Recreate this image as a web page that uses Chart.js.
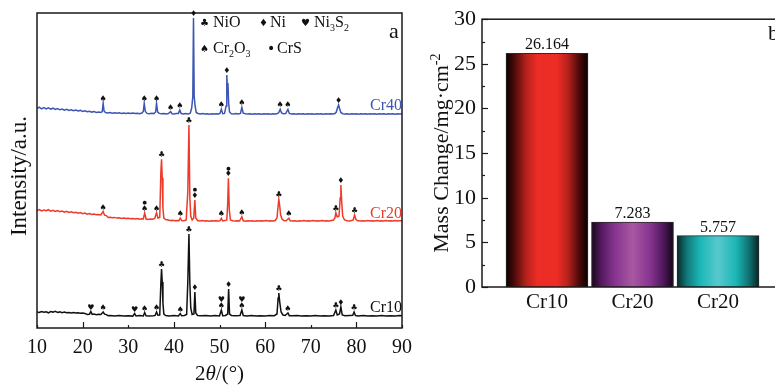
<!DOCTYPE html>
<html>
<head>
<meta charset="utf-8">
<script src="https://cdn.jsdelivr.net/npm/chart.js@4.4.1/dist/chart.umd.min.js"></script>
<style>
  html, body { margin:0; padding:0; background:#fff; }
  body { width:775px; height:390px; overflow:hidden; position:relative; }
  #xrd { position:absolute; left:0; top:0; }
  #mass { position:absolute; left:420px; top:0; }
</style>
</head>
<body>
<canvas id="xrd" width="420" height="390"></canvas>
<canvas id="mass" width="370" height="390"></canvas>
<script>
// ---------------- DATA ----------------
// XRD patterns: [2theta, intensity (a.u., stacked offset)]
const cr40 = [[10,219.5],[10.5,220.8],[11,219.2],[11.5,220.4],[12,219.0],[12.5,220.2],[13,218.8],[13.5,219.8],[14,218.5],[14.5,219.5],[15,218.2],[15.5,219.0],[16,217.8],[16.5,218.7],[17,217.6],[17.5,218.3],[18,217.2],[18.5,218.0],[19,217.0],[19.5,217.6],[20,216.6],[20.5,217.2],[21,216.2],[21.5,216.8],[22,215.9],[22.5,216.4],[23,215.6],[23.5,216.1],[24,215.5],[24.3,216.5],[24.5,224.7],[24.7,217],[25.0,215.4],[25.5,215.0],[26,215.5],[26.5,214.8],[27,215.3],[27.5,214.7],[28,215.2],[28.5,214.6],[29,215.1],[29.5,214.5],[30,215.0],[30.5,214.4],[31,214.9],[31.5,214.4],[32,214.8],[32.5,214.3],[33,214.9],[33.3,216.5],[33.5,224.7],[33.75,216.5],[34.1,214.6],[34.6,214.3],[35.1,214.7],[35.6,214.4],[36.0,216],[36.2,224.7],[36.45,216],[36.8,214.6],[37.3,214.2],[37.8,214.6],[38.3,214.1],[38.8,214.5],[39.3,216.3],[39.6,214.3],[40.0,214.1],[40.5,214.5],[41.0,214.6],[41.3,218],[41.6,214.5],[42.1,214.0],[42.6,214.4],[43.1,214.1],[43.6,214.8],[43.9,220],[44.15,231.3],[44.3,310],[44.45,232],[44.65,222],[44.9,215.5],[45.3,214.5],[45.8,214.0],[46.3,214.4],[46.8,213.9],[47.3,214.3],[47.8,213.8],[48.3,214.2],[48.8,213.9],[49.3,214.3],[49.8,214.0],[50.1,214.5],[50.4,218.7],[50.7,214.3],[51.1,214.6],[51.45,222],[51.6,253],[51.75,236],[51.85,245],[52.0,225],[52.2,216],[52.6,214.3],[53.1,214.0],[53.6,214.4],[54.1,213.9],[54.6,214.5],[54.9,220.7],[55.2,214.8],[55.7,214.2],[56.2,213.9],[56.7,214.3],[57.2,213.8],[57.7,214.2],[58.2,213.9],[58.7,214.3],[59.2,213.8],[59.7,214.2],[60.2,213.9],[60.7,214.3],[61.2,213.8],[61.7,214.2],[62.2,214.0],[62.7,214.4],[63.0,215.5],[63.3,218.7],[63.6,215],[64.0,214.2],[64.5,214.5],[65.0,218.7],[65.3,214.6],[65.8,214.0],[66.3,214.3],[66.8,213.8],[67.3,214.2],[67.8,213.9],[68.3,214.3],[68.8,213.8],[69.3,214.2],[69.8,213.9],[70.3,214.3],[70.8,213.8],[71.3,214.2],[71.8,213.9],[72.3,214.3],[72.8,213.8],[73.3,214.2],[73.8,213.9],[74.3,214.3],[74.8,214.0],[75.3,214.5],[75.6,216],[75.85,220],[76.1,223],[76.35,219],[76.6,215.5],[77.0,214.3],[77.5,213.9],[78,214.3],[78.5,213.8],[79,214.2],[79.5,213.9],[80,214.3],[80.5,213.8],[81,214.2],[81.5,213.9],[82,214.3],[82.5,213.8],[83,214.2],[83.5,213.9],[84,214.3],[84.5,213.8],[85,214.2],[85.5,213.9],[86,214.3],[86.5,213.8],[87,214.2],[87.5,213.9],[88,214.3],[88.5,213.8],[89,214.2],[89.5,214.0],[90,214.3]];

const cr20 = [[10,117.5],[10.5,118.5],[11,117],[11.5,118],[12,117.2],[12.5,118.3],[13,116.8],[13.5,117.6],[14,116.5],[14.5,117.4],[15,116.3],[15.5,117.0],[16,115.8],[16.5,116.6],[17,115.5],[17.5,116.2],[18,115.2],[18.5,115.8],[19,114.8],[19.5,115.5],[20,114.3],[20.5,114.9],[21,113.8],[21.5,114.4],[22,113.5],[22.5,114.0],[23,113.2],[23.5,113.6],[24,113.0],[24.5,116.5],[24.8,112.8],[25.2,112.4],[25.6,110.5],[26,110.8],[26.5,110.2],[27,110.6],[27.5,109.9],[28,110.3],[28.5,109.6],[29,110.0],[29.5,109.4],[30,109.8],[30.5,109.2],[31,109.6],[31.5,109.0],[32,109.4],[32.5,108.8],[33,109.2],[33.3,109],[33.6,115],[33.9,109],[34.3,108.6],[34.8,109.0],[35.3,108.7],[35.8,109.5],[36.2,115.3],[36.5,110],[36.9,110.5],[37.15,156],[37.3,168.7],[37.45,150],[37.6,120],[37.8,110],[38.2,108.5],[38.7,108.0],[39.2,107.5],[39.7,107.8],[40.2,107.2],[40.7,107.6],[41.1,107.3],[41.4,110],[41.7,107.5],[42.2,107.2],[42.7,108],[43.05,136],[43.3,203],[43.5,130],[43.7,112],[44.0,108],[44.35,110],[44.6,128],[44.8,110],[45.2,107.5],[45.7,107.0],[46.2,107.4],[46.7,106.9],[47.2,107.3],[47.7,106.8],[48.2,107.2],[48.7,106.9],[49.2,107.3],[49.7,107.0],[50.1,107.2],[50.4,109.7],[50.7,107],[51.2,107.4],[51.6,108],[51.8,125],[51.95,149.7],[52.15,118],[52.4,108],[52.9,107.2],[53.4,106.9],[53.9,107.3],[54.4,107.0],[54.9,111.3],[55.2,107.2],[55.7,106.8],[56.2,107.2],[56.7,106.9],[57.2,107.3],[57.7,106.8],[58.2,107.2],[58.7,106.9],[59.2,107.3],[59.7,107.0],[60.2,107.4],[60.7,106.9],[61.2,107.3],[61.7,107.0],[62.2,107.5],[62.6,110],[62.8,120],[63.0,128.7],[63.2,122],[63.4,113],[63.7,109],[64.1,107.5],[64.6,107.2],[65.2,109.7],[65.5,107.2],[66,106.9],[66.5,107.3],[67,106.8],[67.5,107.2],[68,107.0],[68.5,107.4],[69,106.9],[69.5,107.3],[70,107.0],[70.5,107.4],[71,106.9],[71.5,107.3],[72,107.0],[72.5,107.4],[73,106.9],[73.5,107.3],[74,107.0],[74.5,107.5],[75,108],[75.3,110],[75.5,115.3],[75.8,111],[76.2,112],[76.45,130],[76.6,143],[76.8,125],[77.0,112],[77.4,108],[78,107.2],[78.5,107.0],[79,107.4],[79.3,108],[79.6,113],[79.9,108.5],[80.3,107.2],[81,106.9],[81.5,107.3],[82,107.0],[82.5,107.4],[83,106.9],[83.5,107.3],[84,107.0],[84.5,107.4],[85,106.9],[85.5,107.3],[86,107.0],[86.5,107.4],[87,106.9],[87.5,107.3],[88,107.0],[88.5,107.4],[89,106.9],[89.5,107.3],[90,107.2]];

const cr10 = [[10,16],[10.5,15.5],[11,16.5],[11.5,15.8],[12,16.2],[12.5,15.2],[13,16.4],[13.5,15.9],[14,16.8],[14.5,15.6],[15,16.1],[15.5,15.3],[16,15.9],[16.5,15.2],[17,15.6],[17.5,15.0],[18,15.4],[18.5,14.9],[19,15.3],[19.5,14.8],[20,15.1],[20.5,14.6],[21,13.5],[21.5,13.8],[21.8,16.5],[22.1,13.6],[22.5,13.9],[23,13.3],[23.5,13.7],[24,13.5],[24.5,16.0],[24.8,13.8],[25.2,13.4],[25.6,12.3],[26,12.6],[27,12.1],[28,12.5],[29,12.0],[30,12.3],[31,11.9],[31.4,14.5],[31.7,12.0],[32.5,12.4],[33.3,12.0],[33.6,15.5],[33.9,12.2],[34.5,12.0],[35.5,12.3],[35.9,12.6],[36.2,16.0],[36.5,12.8],[36.9,13.0],[37.15,45],[37.3,59],[37.45,46],[37.6,25],[37.8,14],[38.2,12.5],[39,12.1],[40,12.4],[41,12.0],[41.4,14.5],[41.7,12.2],[42.3,12.5],[42.8,13.5],[43.05,46],[43.3,94],[43.5,45],[43.7,20],[44.0,13.5],[44.4,14],[44.6,36],[44.8,15],[45.2,12.5],[46,12.2],[47,12.5],[48,12.0],[49,12.4],[50,12.1],[50.4,18],[50.7,12.3],[51.3,12.5],[51.8,14],[52.0,39],[52.2,14],[52.6,12.6],[53.5,12.2],[54.5,12.4],[54.9,18],[55.2,12.5],[56,12.1],[57,12.5],[58,12.0],[59,12.3],[60,12.1],[61,12.4],[62,12.3],[62.6,14],[62.85,30],[63.0,35],[63.2,26],[63.5,16],[63.9,13],[64.4,12.5],[65.0,15],[65.3,12.3],[66,12.2],[67,12.5],[68,12.0],[69,12.3],[70,12.1],[71,12.4],[72,12.0],[73,12.3],[74,12.1],[75,12.4],[75.5,18],[75.8,13],[76.3,14],[76.6,21],[76.9,13],[77.5,12.2],[78.5,12.4],[79.2,12.6],[79.5,16],[79.8,12.5],[80.5,12.1],[81.5,12.4],[82.5,12.0],[83.5,12.3],[84.5,12.1],[85.5,12.4],[86.5,12.0],[87.5,12.3],[88.5,12.1],[89.5,12.4],[90,12.2]];

// phase markers: [2theta, symbols stacked bottom->top]
const cr40Markers = [[24.5,'♠'],[33.5,'♠'],[36.2,'♠'],[39.3,'♠'],[41.3,'♠'],[44.3,'♦'],[50.4,'♠'],[51.6,'♦'],[54.9,'♠'],[63.3,'♠'],[65.0,'♠'],[76.1,'♦']];
const cr20Markers = [[24.5,'♠'],[33.6,'♠●'],[36.2,'♠'],[37.3,'♣'],[41.4,'♠'],[43.3,'♣'],[44.6,'♦●'],[50.4,'♠'],[51.95,'♦●'],[54.9,'♠'],[63.0,'♣'],[65.2,'♠'],[75.5,'♣'],[76.6,'♦'],[79.6,'♣']];
const cr10Markers = [[21.8,'♥'],[24.5,'♠'],[31.4,'♥'],[33.6,'♠'],[36.2,'♠'],[37.3,'♣'],[41.4,'♠'],[43.3,'♣'],[44.6,'♦'],[50.4,'♠♥'],[52.0,'♦'],[54.9,'♠♥'],[63.0,'♣'],[65.0,'♠'],[75.5,'♣'],[76.6,'♦'],[79.5,'♣']];

const seriesNames = ['Cr40', 'Cr20', 'Cr10'];
const xrdTicks = [10, 20, 30, 40, 50, 60, 70, 80, 90];

// Mass change bar chart
const categories = ['Cr10', 'Cr20', 'Cr20'];
const massChange = [26.164, 7.283, 5.757];
const massTicks = [0, 5, 10, 15, 20, 25, 30];

// ---------------- STYLE ----------------
const SERIF = '"Liberation Serif", "DejaVu Serif", serif';
const seriesColors = ['#3b56b4', '#ee3a2a', '#111111'];
const barGradients = [
  [[0,'#0a0000'],[0.1,'#4a0a0a'],[0.25,'#b8221c'],[0.38,'#ec2c26'],[0.62,'#ee2c26'],[0.75,'#b8221c'],[0.9,'#460808'],[1,'#080000']],
  [[0,'#150718'],[0.12,'#54195f'],[0.28,'#86338f'],[0.5,'#a858a2'],[0.72,'#86338f'],[0.88,'#4e175a'],[1,'#100412']],
  [[0,'#082828'],[0.12,'#127878'],[0.28,'#1bb6b6'],[0.5,'#58c9cd'],[0.72,'#1bb6b6'],[0.88,'#107070'],[1,'#062424']]
];

Chart.defaults.font.family = SERIF;
Chart.defaults.color = '#111';

function drawParts(ctx, parts, x, y, size) {
  let cx = x;
  for (const [t, m] of parts) {
    const fs = (m === 'sub' || m === 'sup') ? Math.round(size * 0.62) : size;
    ctx.font = (m === 'i' ? 'italic ' : '') + fs + 'px ' + SERIF;
    const dy = m === 'sub' ? size * 0.28 : (m === 'sup' ? -size * 0.38 : 0);
    ctx.fillText(t, cx, y + dy);
    cx += ctx.measureText(t).width;
  }
  return cx - x;
}
function partsWidth(ctx, parts, size) {
  let w = 0;
  for (const [t, m] of parts) {
    const fs = (m === 'sub' || m === 'sup') ? Math.round(size * 0.62) : size;
    ctx.font = (m === 'i' ? 'italic ' : '') + fs + 'px ' + SERIF;
    w += ctx.measureText(t).width;
  }
  return w;
}

// ---------------- LEFT: XRD ----------------
const xrdSeries = [cr40, cr20, cr10];
const xrdMarkers = [cr40Markers, cr20Markers, cr10Markers];

const xrdPlugin = {
  id: 'xrdDecor',
  afterDraw(chart) {
    const { ctx, chartArea: a, scales: { x, y } } = chart;
    ctx.save();
    ctx.strokeStyle = '#1a1a1a';
    ctx.lineWidth = 1.5;
    ctx.strokeRect(a.left, a.top, a.right - a.left, a.bottom - a.top);
    ctx.lineWidth = 1.2;
    xrdTicks.forEach(v => {
      const px = Math.round(x.getPixelForValue(v)) + 0.5;
      const len = (v % 20 === 0) ? 6 : 3;
      ctx.beginPath(); ctx.moveTo(px, a.bottom); ctx.lineTo(px, a.bottom - len); ctx.stroke();
    });
    // phase markers
    ctx.fillStyle = '#111';
    ctx.textAlign = 'center';
    ctx.textBaseline = 'middle';
    xrdMarkers.forEach((list, si) => {
      const pts = xrdSeries[si];
      list.forEach(([tt, syms]) => {
        let top = -Infinity;
        pts.forEach(p => { if (Math.abs(p[0] - tt) <= 0.3 && p[1] > top) top = p[1]; });
        const py = y.getPixelForValue(top);
        Array.from(syms).forEach((s, k) => {
          ctx.font = (s === '●' ? '5px ' : '8px ') + '"DejaVu Sans", sans-serif';
          ctx.fillText(s, x.getPixelForValue(tt), py - 4 - k * 6);
        });
      });
    });
    // series labels
    ctx.textAlign = 'right';
    ctx.textBaseline = 'alphabetic';
    ctx.font = '16px ' + SERIF;
    const labY = [110, 218, 312];
    seriesNames.forEach((n, i) => {
      ctx.fillStyle = seriesColors[i];
      ctx.fillText(n, 402, labY[i]);
    });
    // legend
    ctx.fillStyle = '#111';
    ctx.textAlign = 'left';
    const sym = (s, px, py) => { ctx.font = '10px "DejaVu Sans", sans-serif'; ctx.fillText(s, px, py - 1); };
    sym('♣', 200, 27); drawParts(ctx, [['NiO','n']], 213, 27, 16);
    sym('♦', 259, 27); drawParts(ctx, [['Ni','n']], 270, 27, 16);
    sym('♥', 301, 27); drawParts(ctx, [['Ni','n'],['3','sub'],['S','n'],['2','sub']], 314, 27, 16);
    sym('♠', 200, 53); drawParts(ctx, [['Cr','n'],['2','sub'],['O','n'],['3','sub']], 213, 53, 16);
    ctx.font = '14px "DejaVu Sans", sans-serif'; ctx.fillText('•', 267, 53);
    drawParts(ctx, [['CrS','n']], 277, 53, 16);
    ctx.font = '22px ' + SERIF;
    ctx.fillText('a', 389, 38);
    // x title
    const xt = [['2','n'],['θ','i'],['/(°)','n']];
    const w = partsWidth(ctx, xt, 21);
    drawParts(ctx, xt, (a.left + a.right) / 2 - w / 2, 380, 21);
    // y title
    ctx.save();
    ctx.translate(26, 176);
    ctx.rotate(-Math.PI / 2);
    ctx.textAlign = 'center';
    ctx.font = '23px ' + SERIF;
    ctx.fillText('Intensity/a.u.', 0, 0);
    ctx.restore();
    ctx.restore();
  }
};

new Chart(document.getElementById('xrd'), {
  type: 'line',
  data: {
    datasets: xrdSeries.map((s, i) => ({
      label: seriesNames[i],
      data: s.map(p => ({ x: p[0], y: p[1] })),
      borderColor: seriesColors[i],
      borderWidth: 1.5,
      pointRadius: 0,
      tension: 0,
      fill: false
    }))
  },
  options: {
    responsive: false,
    animation: false,
    devicePixelRatio: 1,
    layout: { padding: { left: 37, right: 15, top: 13, bottom: 0 } },
    plugins: { legend: { display: false }, tooltip: { enabled: false } },
    scales: {
      x: {
        type: 'linear', min: 10, max: 90,
        afterBuildTicks: s => { s.ticks = xrdTicks.map(v => ({ value: v })); },
        afterFit: s => { s.height = 62; },
        grid: { display: false, drawTicks: false },
        border: { display: false },
        ticks: { font: { size: 20, family: SERIF }, color: '#111', padding: 8, maxRotation: 0, autoSkip: false }
      },
      y: { display: false, min: 0, max: 315 }
    }
  },
  plugins: [xrdPlugin]
});

// ---------------- RIGHT: Mass change ----------------
const massPlugin = {
  id: 'massDecor',
  afterDraw(chart) {
    const { ctx, chartArea: a, scales: { x, y } } = chart;
    ctx.save();
    ctx.strokeStyle = '#1a1a1a';
    ctx.lineWidth = 1.5;
    ctx.strokeRect(a.left, a.top, a.right - a.left, a.bottom - a.top);
    ctx.lineWidth = 1.2;
    for (let v = 0; v <= 30; v += 2.5) {
      const py = Math.round(y.getPixelForValue(v)) + 0.5;
      const len = (v % 5 === 0) ? 6 : 3;
      ctx.beginPath(); ctx.moveTo(a.left, py); ctx.lineTo(a.left + len, py); ctx.stroke();
    }
    ctx.fillStyle = '#111';
    ctx.textAlign = 'center';
    ctx.textBaseline = 'alphabetic';
    ctx.font = '16px ' + SERIF;
    massChange.forEach((v, i) => {
      ctx.fillText(v.toFixed(3), x.getPixelForValue(i + 1), y.getPixelForValue(v) - 4);
    });
    ctx.textAlign = 'left';
    ctx.font = '22px ' + SERIF;
    ctx.fillText('b', 348, 40);
    ctx.save();
    ctx.translate(28, (a.top + a.bottom) / 2);
    ctx.rotate(-Math.PI / 2);
    const parts = [['Mass Change/mg·cm','n'],['-2','sup']];
    const w = partsWidth(ctx, parts, 22);
    ctx.textAlign = 'left';
    drawParts(ctx, parts, -w / 2, 0, 22);
    ctx.restore();
    ctx.restore();
  }
};

function barFill(context) {
  const chart = context.chart;
  const xs = chart.scales && chart.scales.x;
  const i = context.dataIndex;
  const stops = barGradients[i % barGradients.length];
  if (!chart.chartArea || !xs || isNaN(xs.getPixelForValue(i + 1))) return stops[3][1];
  const cx = xs.getPixelForValue(i + 1);
  const g = chart.ctx.createLinearGradient(cx - 41, 0, cx + 41, 0);
  stops.forEach(([o, c]) => g.addColorStop(o, c));
  return g;
}

new Chart(document.getElementById('mass'), {
  type: 'bar',
  data: {
    datasets: [{
      label: 'Mass Change',
      data: massChange.map((v, i) => ({ x: i + 1, y: v })),
      backgroundColor: barFill,
      borderColor: '#2a2a2a',
      borderWidth: 1,
      barThickness: 82
    }]
  },
  options: {
    responsive: false,
    animation: false,
    devicePixelRatio: 1,
    layout: { padding: { left: 0, right: 7, top: 13, bottom: 0 } },
    plugins: { legend: { display: false }, tooltip: { enabled: false } },
    scales: {
      x: {
        type: 'linear', min: 0.24, max: 3.76, offset: false,
        afterBuildTicks: s => { s.ticks = categories.map((c, i) => ({ value: i + 1 })); },
        afterFit: s => { s.height = 103; },
        grid: { display: false, drawTicks: false },
        border: { display: false },
        ticks: {
          font: { size: 21, family: SERIF }, color: '#111', padding: 3, maxRotation: 0, autoSkip: false,
          callback: v => categories[Math.round(v) - 1]
        }
      },
      y: {
        min: 0, max: 30,
        afterBuildTicks: s => { s.ticks = massTicks.map(v => ({ value: v })); },
        afterFit: s => { s.width = 62; },
        grid: { display: false, drawTicks: false },
        border: { display: false },
        ticks: { font: { size: 22, family: SERIF }, color: '#111', padding: 6 }
      }
    }
  },
  plugins: [massPlugin]
});
</script>
</body>
</html>
